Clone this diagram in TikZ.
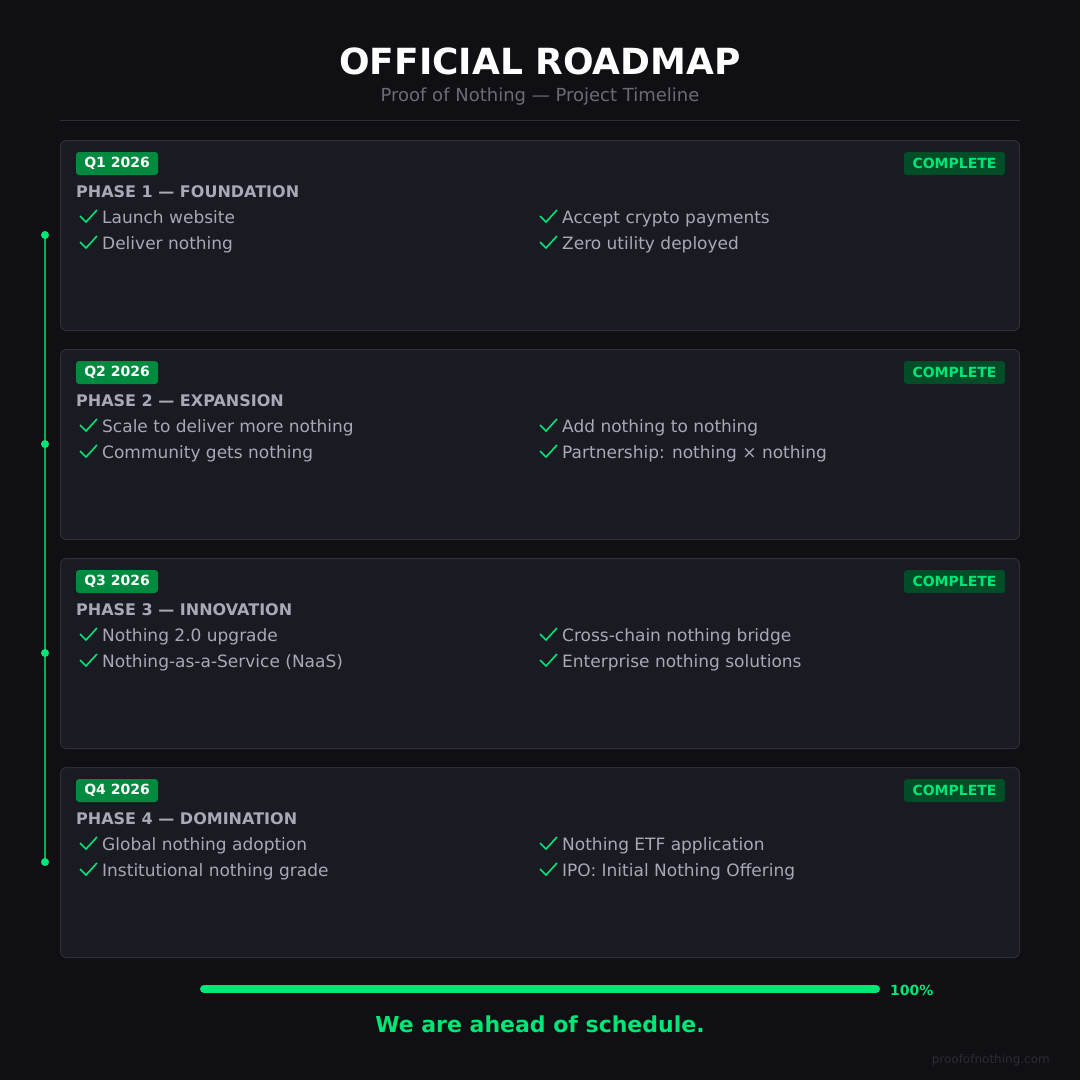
\documentclass[tikz,border=0pt]{standalone}
\usepackage{fontspec}
\setmainfont{DejaVu Sans}
\definecolor{bg}{HTML}{0F0F14}
\definecolor{card}{HTML}{1A1A23}
\definecolor{cardline}{HTML}{2E2E3A}
\definecolor{neon}{HTML}{00E676}
\definecolor{tline}{HTML}{00B050}
\definecolor{qbadge}{HTML}{008A40}
\definecolor{cbadge}{HTML}{004D28}
\definecolor{txt}{HTML}{A8A8B6}
\definecolor{sub}{HTML}{6B6B78}
\definecolor{foot}{HTML}{2C2C36}
\tikzset{
  cardbox/.style={draw=cardline, fill=card, rounded corners=6pt, line width=1pt},
  qbox/.style={fill=qbadge, rounded corners=3pt, text=white, font=\bfseries\fontsize{14}{14}\selectfont, minimum width=82pt, minimum height=23pt, inner sep=0pt},
  cbox/.style={fill=cbadge, rounded corners=3pt, text=neon, font=\bfseries\fontsize{14}{14}\selectfont, minimum width=101pt, minimum height=23pt, inner sep=0pt},
  phasetxt/.style={text=txt, font=\bfseries\fontsize{16}{16}\selectfont, anchor=base west, inner sep=0pt},
  itemtxt/.style={text=txt, font=\fontsize{17}{17}\selectfont, anchor=base west, inner sep=0pt},
  chk/.style={draw=neon, line width=1.6pt},
  tdot/.style={circle, fill=neon, minimum size=8pt, inner sep=0pt},
}
\newcommand{\checkat}[2]{\draw[chk] (#1,#2) ++(0,-1) -- ++(6,6) -- ++(11,-12);}
\begin{document}
\begin{tikzpicture}[x=1pt,y=-1pt]
\fill[bg] (0,0) rectangle (1080,1080);
\useasboundingbox (0,0) rectangle (1080,1080);
% header
\node[anchor=base, inner sep=0pt] (title) at (540,74) {\color{white}\bfseries\fontsize{36}{36}\selectfont OFFICIAL ROADMAP};
\node[anchor=base, inner sep=0pt] (subtitle) at (540,101.5) {\color{sub}\fontsize{18}{18}\selectfont Proof of Nothing — Project Timeline};
\draw[cardline, line width=1pt] (60,120.5) -- (1020,120.5);
% timeline
\coordinate (t1) at (45,235);
\coordinate (t4) at (45,862);
\draw[tline, line width=2pt] (t1) -- (t4);
\foreach \i/\y in {1/235,2/444,3/653,4/862} {\node[tdot] (dot\i) at (45,\y) {};}
% cards
\foreach \i/\q/\phase/\a/\b/\c/\d in {
  0/Q1 2026/PHASE 1 — FOUNDATION/Launch website/Deliver nothing/Accept crypto payments/Zero utility deployed,
  1/Q2 2026/PHASE 2 — EXPANSION/Scale to deliver more nothing/Community gets nothing/Add nothing to nothing/Partnership: nothing × nothing,
  2/Q3 2026/PHASE 3 — INNOVATION/Nothing 2.0 upgrade/Nothing-as-a-Service (NaaS)/Cross-chain nothing bridge/Enterprise nothing solutions,
  3/Q4 2026/PHASE 4 — DOMINATION/Global nothing adoption/Institutional nothing grade/Nothing ETF application/IPO: Initial Nothing Offering} {
  \pgfmathsetmacro{\yo}{140+209*\i}
  \begin{scope}[yshift=-\yo pt]
    \draw[cardbox] (60.5,0.5) rectangle (1019.5,190.5);
    \node[qbox] (q\i) at (117,23.5) {\q};
    \node[cbox] (c\i) at (954.5,23.5) {COMPLETE};
    \node[phasetxt] (p\i) at (76,57.3) {\phase};
    \checkat{80}{77}
    \node[itemtxt] (a\i) at (102,83.5) {\a};
    \checkat{80}{103}
    \node[itemtxt] (b\i) at (102,109.5) {\b};
    \checkat{540}{77}
    \node[itemtxt] (cc\i) at (562,83.5) {\c};
    \checkat{540}{103}
    \node[itemtxt] (d\i) at (562,109.5) {\d};
  \end{scope}
}
% progress
\coordinate (pb1) at (204,989);
\coordinate (pb2) at (876,989);
\draw[neon, line width=8pt, line cap=round] (pb1) -- (pb2);
\node[anchor=west, inner sep=0pt, text=neon, font=\bfseries\fontsize{14}{14}\selectfont] (pct) at (890,990) {100\%};
\node[text=neon, font=\bfseries\fontsize{22}{22}\selectfont] (ahead) at (540,1024) {We are ahead of schedule.};
\node[anchor=east, inner sep=0pt, text=foot, font=\fontsize{12}{12}\selectfont] (footer) at (1050,1060) {proofofnothing.com};
\end{tikzpicture}
\end{document}
